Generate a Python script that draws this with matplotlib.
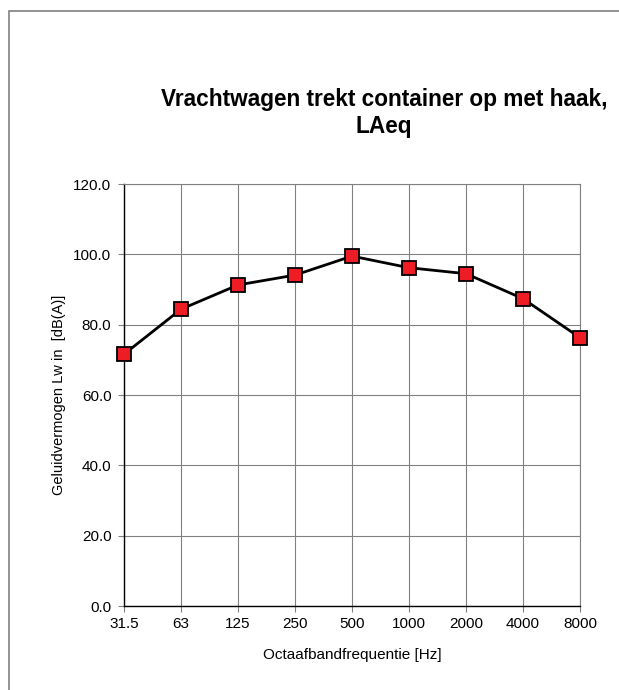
import matplotlib
matplotlib.use("Agg")
import matplotlib.pyplot as plt
from matplotlib.patches import Rectangle

plt.rcParams['font.family'] = ['Liberation Sans', 'DejaVu Sans']

freqs = ["31.5", "63", "125", "250", "500", "1000", "2000", "4000", "8000"]
lw_values = [71.6, 84.4, 91.3, 94.1, 99.5, 96.2, 94.5, 87.4, 76.3]
y_ticks = [0, 20, 40, 60, 80, 100, 120]

fig = plt.figure(figsize=(6.19, 6.90), dpi=100)
ax = fig.add_axes([0.2003, 0.1217, 0.7367, 0.6116])

# outer frame of the chart area (cut off at right and bottom)
fig.patches.append(Rectangle((9 / 619, -0.1), 1.2, (690 - 11) / 690 + 0.1,
                             transform=fig.transFigure, fill=False,
                             edgecolor="#808080", linewidth=1.2))

x = list(range(len(freqs)))
ax.plot(x, lw_values, color="black", linewidth=2, marker="s", markersize=10,
        markerfacecolor="#ee1c24", markeredgecolor="black", markeredgewidth=1.3,
        zorder=3, clip_on=False)

ax.set_xlim(0, len(freqs) - 1)
ax.set_ylim(0, 120)
ax.set_xticks(x)
ax.set_xticklabels(freqs)
ax.set_yticks(y_ticks)
ax.set_yticklabels([f"{v:.1f}" for v in y_ticks])
ax.grid(True, color="#808080", linewidth=0.8)
ax.set_axisbelow(True)

for side in ["top", "right"]:
    ax.spines[side].set_color("#808080")
    ax.spines[side].set_linewidth(0.8)
for side in ["left", "bottom"]:
    ax.spines[side].set_color("black")
    ax.spines[side].set_linewidth(1.0)

ax.tick_params(axis="both", direction="out", length=4, width=0.8,
               color="#808080", labelsize=11)
ax.tick_params(axis="x", pad=4)
ax.tick_params(axis="y", pad=5)

ax.set_xlabel("Octaafbandfrequentie [Hz]", fontsize=11, labelpad=12)
ax.set_ylabel("Geluidvermogen Lw in  [dB(A)]", fontsize=10.5, labelpad=5)

fig.text(384 / 619, 1 - 113 / 690, "Vrachtwagen trekt container op met haak,\nLAeq",
         ha="center", va="center", fontsize=16.3, fontweight="bold", linespacing=1.2)

fig.savefig("out.png", dpi=100)
